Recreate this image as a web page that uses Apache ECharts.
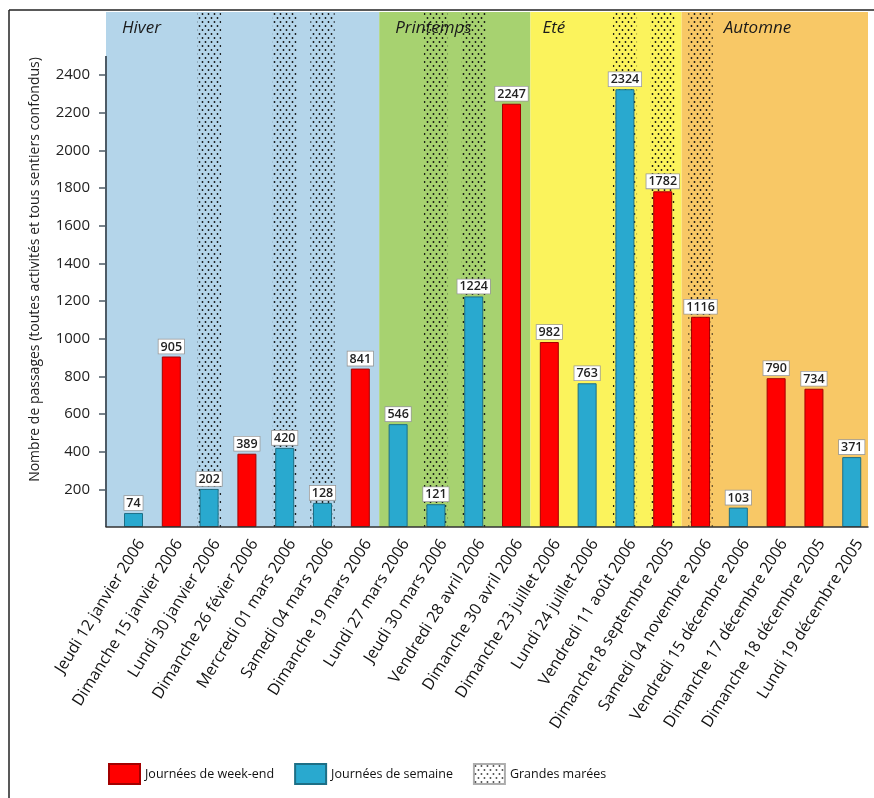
<!DOCTYPE html>
<html><head><meta charset="utf-8">
<script src="https://cdn.jsdelivr.net/npm/echarts@6/dist/echarts.min.js"></script>
<style>html,body{margin:0;padding:0;background:#fff}#c{width:874px;height:798px}</style>
</head><body><div id="c"></div>
<script>
// ---- data ----
const categories = ['Jeudi 12 janvier 2006','Dimanche 15 janvier 2006','Lundi 30 janvier 2006','Dimanche 26 févier 2006','Mercredi 01 mars 2006','Samedi 04 mars 2006','Dimanche 19 mars 2006','Lundi 27 mars 2006','Jeudi 30 mars 2006','Vendredi 28 avril 2006','Dimanche 30 avril 2006','Dimanche 23 juillet 2006','Lundi 24 juillet 2006','Vendredi 11 août 2006','Dimanche18 septembre 2005','Samedi 04 novembre 2006','Vendredi 15 décembre 2006','Dimanche 17 décembre 2006','Dimanche 18 décembre 2005','Lundi 19 décembre 2005'];
const passages = [74,905,202,389,420,128,841,546,121,1224,2247,982,763,2324,1782,1116,103,790,734,371];
// W = journée de week-end, S = journée de semaine
const dayType = ['S','W','S','W','S','S','W','S','S','S','W','W','S','S','W','W','S','W','W','S'];
const tidalDays = [2,4,5,8,9,13,14,15];
const seasons = ['Hiver','Printemps','Eté','Automne'];
const seasonFirst = [0,7,11,15];
const seasonLast = [6,10,14,19];
const yTicks = [200,400,600,800,1000,1200,1400,1600,1800,2000,2200,2400];
const Y_AXIS_END = 2500;

// ---- layout / style constants ----
const XMIN = -0.7275, XMAX = 19.43, Y_TOP = 2734;
const seasonColors = ['#b4d5ea','#a7d270','#fbf35c','#f8c866'];
const seasonLabelDx = [16,16,12,42];
const FONT = 'Open Sans';

function dotPattern(){
  const c = document.createElement('canvas');
  c.width = 6; c.height = 8;
  const g = c.getContext('2d');
  g.fillStyle = '#111';
  [[1.5,2],[4.5,6]].forEach(p => { g.beginPath(); g.arc(p[0],p[1],0.9,0,Math.PI*2); g.fill(); });
  return c;
}
const pattern = {image: dotPattern(), repeat: 'repeat'};

const chart = echarts.init(document.getElementById('c'), null, {renderer:'canvas'});

const weekend = [], semaine = [];
passages.forEach((v,i) => (dayType[i] === 'W' ? weekend : semaine).push([i, v]));

const labelStyle = {
  show: true, position: 'top', distance: 3, color: '#222', fontSize: 12.5, fontWeight: 600,
  fontFamily: FONT, backgroundColor: '#fff', borderColor: '#9a9a9a', borderWidth: 0.8, padding: [1,2,0,2]
};

const option = {
  animation: false,
  textStyle: {fontFamily: FONT},
  grid: {left: 106, right: 874 - 868, top: 12, bottom: 798 - 527, containLabel: false},
  legend: {
    data: ['Journées de week-end','Journées de semaine','Grandes marées'],
    left: 108, top: 763, padding: 0, icon: 'rect', itemWidth: 31, itemHeight: 20, itemGap: 20,
    textStyle: {fontSize: 12.5, color: '#111', fontFamily: FONT}, selectedMode: false
  },
  xAxis: {
    type: 'value', min: XMIN, max: XMAX, z: 10,
    axisLine: {show: true, onZero: false, lineStyle: {color: '#333', width: 1.5}},
    axisTick: {show: false}, splitLine: {show: false},
    axisLabel: {
      customValues: categories.map((_, i) => i),
      formatter: v => categories[Math.round(v)],
      rotate: 58, fontSize: 16, color: '#111', margin: 9,
      verticalAlign: 'top', padding: [1,0,0,0]
    }
  },
  yAxis: {
    type: 'value', min: 0, max: Y_TOP,
    name: 'Nombre de passages (toutes activités et tous sentiers confondus)',
    nameLocation: 'middle', nameGap: 64,
    nameTextStyle: {fontSize: 14, color: '#222', fontFamily: FONT},
    axisLine: {show: false, onZero: false},
    axisTick: {show: true, customValues: yTicks, length: 7, lineStyle: {color: '#4d5b66', width: 1.5}},
    axisLabel: {customValues: yTicks, fontSize: 15, color: '#222', margin: 16, formatter: v => String(v)},
    splitLine: {show: false}
  },
  graphic: [
    {type: 'line', shape: {x1: 9, y1: 10, x2: 874, y2: 10}, style: {stroke: '#222', lineWidth: 1.5}, z: 100},
    {type: 'line', shape: {x1: 9, y1: 10, x2: 9, y2: 798}, style: {stroke: '#222', lineWidth: 1.5}, z: 100}
  ],
  series: [
    {
      name: 'seasons', type: 'scatter', data: [], silent: true, z: 0,
      markArea: {
        silent: true, z: 0,
        data: seasons.map((s, k) => [
          {name: s, xAxis: k === 0 ? XMIN : seasonFirst[k] - 0.5,
           itemStyle: {color: seasonColors[k]},
           label: {show: true, position: 'insideTopLeft', distance: 0, offset: [seasonLabelDx[k], 8],
                   fontStyle: 'italic', fontSize: 17, color: '#1a1a1a', fontFamily: FONT}},
          {xAxis: k === seasons.length - 1 ? XMAX : seasonLast[k] + 0.5}
        ])
      }
    },
    {
      name: 'Grandes marées', type: 'scatter', data: [], silent: true, z: 1,
      itemStyle: {color: pattern, borderColor: '#9a9a9a', borderWidth: 1},
      markArea: {
        silent: true, z: 1,
        itemStyle: {color: pattern},
        data: tidalDays.map(i => [{xAxis: i - 0.32}, {xAxis: i + 0.32}])
      }
    },
    {
      name: 'yAxisLine', type: 'line', silent: true, z: 6, clip: false,
      data: [[XMIN, 0], [XMIN, Y_AXIS_END]],
      symbol: 'none', lineStyle: {color: '#4d5b66', width: 2}
    },
    {
      name: 'Journées de week-end', type: 'bar', data: weekend, barWidth: 19, barGap: '-100%', z: 3,
      itemStyle: {color: '#ff0000', borderColor: '#a30000', borderWidth: 1},
      label: labelStyle
    },
    {
      name: 'Journées de semaine', type: 'bar', data: semaine, barWidth: 19, barGap: '-100%', z: 3,
      itemStyle: {color: '#29a9cf', borderColor: '#1d6f86', borderWidth: 1},
      label: labelStyle
    }
  ]
};
chart.setOption(option);
</script>
</body></html>
